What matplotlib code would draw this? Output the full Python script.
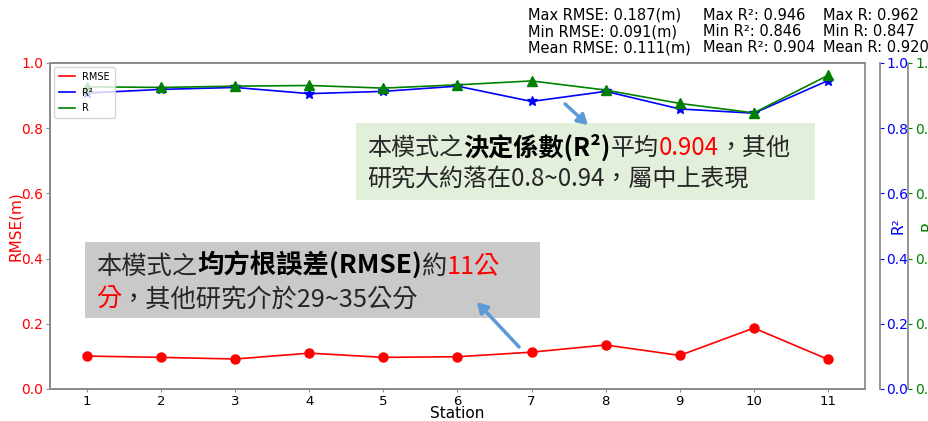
import matplotlib
matplotlib.use("Agg")
import matplotlib.pyplot as plt
from matplotlib.offsetbox import TextArea, HPacker, VPacker, AnnotationBbox
from matplotlib.patches import Rectangle, FancyArrowPatch

stations = [1, 2, 3, 4, 5, 6, 7, 8, 9, 10, 11]
rmse = [0.101, 0.097, 0.092, 0.110, 0.097, 0.099, 0.113, 0.135, 0.103, 0.187, 0.091]
r2 = [0.908, 0.919, 0.925, 0.906, 0.913, 0.929, 0.882, 0.913, 0.859, 0.846, 0.946]
r = [0.927, 0.925, 0.929, 0.931, 0.923, 0.933, 0.945, 0.917, 0.876, 0.847, 0.962]

stats_cols = [
    ["Max RMSE: 0.187(m)", "Min RMSE: 0.091(m)", "Mean RMSE: 0.111(m)"],
    ["Max R²: 0.946", "Min R²: 0.846", "Mean R²: 0.904"],
    ["Max R: 0.962", "Min R: 0.847", "Mean R: 0.920"],
]

CJK = ['Noto Sans CJK TC', 'DejaVu Sans']
W, H = 929, 421
fig = plt.figure(figsize=(W / 100, H / 100), dpi=100)
ax = fig.add_axes([50 / W, 1 - 389 / H, (865 - 50) / W, (389 - 63) / H])
ax2 = ax.twinx()
ax3 = ax.twinx()

spine_c = '#8c8c8c'
for a in (ax, ax2, ax3):
    for s in a.spines.values():
        s.set_color(spine_c)
        s.set_linewidth(1.3)
ax2.spines['right'].set_position(('outward', 10.5))
ax3.spines['right'].set_position(('outward', 31))

l1, = ax.plot(stations, rmse, color='red', marker='o', markersize=6.5, lw=1.2, label='RMSE')
l2, = ax2.plot(stations, r2, color='blue', marker='*', markersize=7, lw=1.2, label='R²')
l3, = ax3.plot(stations, r, color='green', marker='^', markersize=7, lw=1.2, label='R')

yt = [0, 0.2, 0.4, 0.6, 0.8, 1.0]
for a in (ax, ax2, ax3):
    a.set_ylim(0, 1.0)
    a.set_yticks(yt)
ax.set_xlim(0.5, 11.5)
ax.set_xticks(stations)

ax.tick_params(axis='x', labelsize=9.5, colors='black', color=spine_c, length=2.5, pad=1.5)
ax.tick_params(axis='y', labelsize=10, labelcolor='red', color=spine_c, length=3, pad=2)
ax2.tick_params(axis='y', labelsize=10, labelcolor='blue', color='blue', length=3, pad=2)
ax3.tick_params(axis='y', labelsize=10, labelcolor='green', color='green', length=3, pad=2)
ax.set_xlabel('Station', fontsize=11, labelpad=-1)
ax.set_ylabel('RMSE(m)', color='red', fontsize=11)
ax.yaxis.set_label_coords(-27 / 815, 0.5)
ax2.set_ylabel('R²', color='blue', fontsize=11)
ax2.yaxis.set_label_coords((891 - 50) / 815, 0.5)
ax3.set_ylabel('R', color='green', fontsize=11)
ax3.yaxis.set_label_coords((921 - 50) / 815, 0.5)

leg = ax3.legend(handles=[l1, l2, l3], loc='upper left', fontsize=7,
                 handlelength=1.7, borderpad=0.5, labelspacing=0.6,
                 handletextpad=0.7, frameon=True, borderaxespad=0.4)
for h in leg.legend_handles:
    h.set_marker('')

# stats text
col_x = [528, 703, 823]
for x, lines in zip(col_x, stats_cols):
    fig.text(x / W, 1 - 8 / H, "\n".join(lines), fontsize=10.5, va='top', ha='left',
             linespacing=1.1, color='black')

# annotation boxes
def make_lines(lines, fs, sep):
    rows = []
    for segs in lines:
        kids = []
        for t, c, w in segs:
            size = fs + 0.8 if w == 'bold' else fs
            kids.append(TextArea(t, textprops=dict(color=c, fontsize=size, fontweight=w, family=CJK)))
        rows.append(HPacker(children=kids, align='baseline', pad=0, sep=0))
    return VPacker(children=rows, align='left', pad=0, sep=sep)

tc = '#262626'
green_lines = [
    [('本模式之', tc, 'normal'), ('決定係數(R²)', 'black', 'bold'), ('平均', tc, 'normal'),
     ('0.904', 'red', 'normal'), ('，其他', tc, 'normal')],
    [('研究大約落在0.8~0.94，屬中上表現', tc, 'normal')],
]
gray_lines = [
    [('本模式之', tc, 'normal'), ('均方根誤差(RMSE)', 'black', 'bold'), ('約', tc, 'normal'),
     ('11公', 'red', 'normal')],
    [('分', 'red', 'normal'), ('，其他研究介於29~35公分', tc, 'normal')],
]

box_specs = [
    ((356, 123, 815, 200), '#e2efda', green_lines, (367, 134), 17.3, 4),
    ((85, 242, 540, 318), '#c9c9c9', gray_lines, (96, 252), 18.2, 5),
]
for (x0, y0, x1, y1), fc, lines, (tx, ty), fs, sep in box_specs:
    fig.patches.append(Rectangle((x0 / W, 1 - y1 / H), (x1 - x0) / W, (y1 - y0) / H,
                                 transform=fig.transFigure, facecolor=fc, edgecolor='none', zorder=5))
    ab = AnnotationBbox(make_lines(lines, fs, sep), (tx / W, 1 - ty / H), xycoords='figure fraction',
                        box_alignment=(0, 1), frameon=False, pad=0)
    ab.set_zorder(6)
    fig.artists.append(ab)
    ab.set_figure(fig)

# arrows
arrow_c = '#5b9bd5'
for (sx, sy), (ex, ey) in [((563, 102), (590, 127)), ((521, 349), (475, 300))]:
    arr = FancyArrowPatch((sx / W, 1 - sy / H), (ex / W, 1 - ey / H), transform=fig.transFigure,
                          arrowstyle='-|>,head_length=6,head_width=3.5', color=arrow_c, lw=2.5,
                          mutation_scale=1, zorder=7)
    fig.patches.append(arr)

fig.savefig('out.png', dpi=100)
